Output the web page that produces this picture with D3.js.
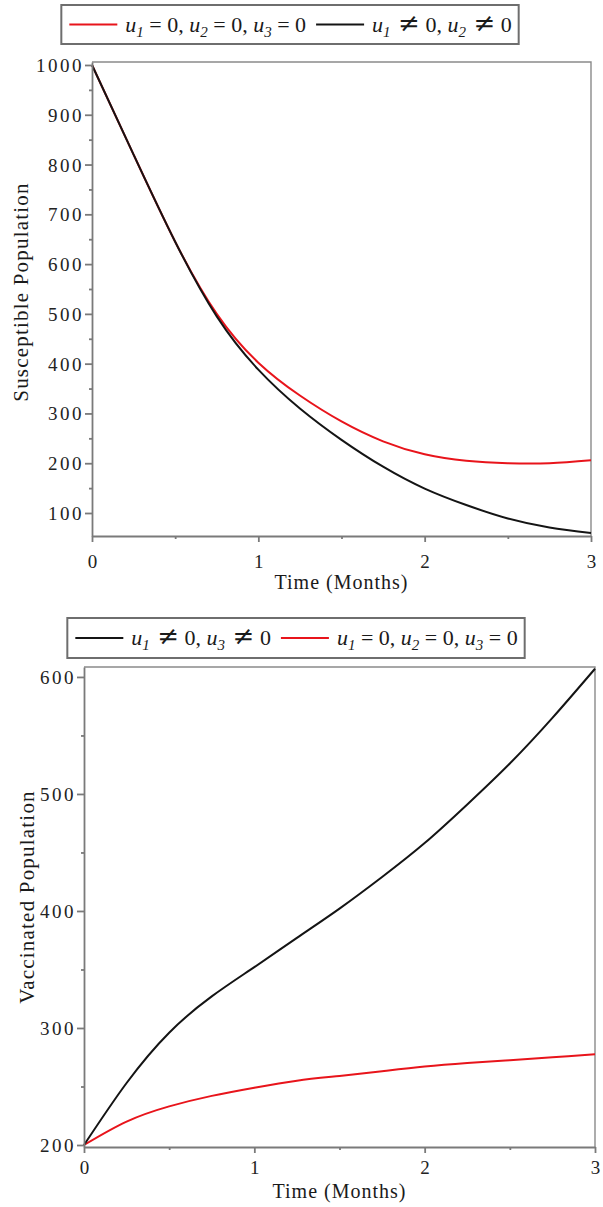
<!DOCTYPE html>
<html>
<head>
<meta charset="utf-8">
<script src="https://cdn.jsdelivr.net/npm/d3@7"></script>
<style>
  html, body { margin: 0; padding: 0; background: #fff; }
  svg { display: block; font-family: "Liberation Serif", "Times New Roman", serif; }
  text { white-space: pre; }
</style>
</head>
<body>
<svg id="chart" width="603" height="1207"></svg>
<script>
// --- データ ---
const months = [0, 0.25, 0.5, 0.75, 1, 1.25, 1.5, 1.75, 2, 2.25, 2.5, 2.75, 3];

const susceptibleNoControl = [1000, 820, 645, 500, 402, 336, 284, 244, 218, 205, 200, 200, 206];
const susceptibleControl = [1000, 820, 645, 495, 388, 310, 247, 193, 149, 116, 89, 71, 60];

const vaccinatedControl = [200, 253, 296, 327, 352, 377, 402, 429, 458, 491, 526, 565, 607];
const vaccinatedNoControl = [200, 220, 233, 242, 249, 255, 259, 263, 267, 270, 272.5, 275, 277.5];

const timeTicks = [0, 1, 2, 3];
const timeMinorTicks = [0.5, 1.5, 2.5];
const susceptibleTicks = [100, 200, 300, 400, 500, 600, 700, 800, 900, 1000];
const susceptibleMinorTicks = [150, 250, 350, 450, 550, 650, 750, 850, 950];
const vaccinatedTicks = [200, 300, 400, 500, 600];
const vaccinatedMinorTicks = [250, 350, 450, 550];

// 凡例ラベル: [文字列, 種類]
const labelNoControl = [["u", "it"], ["1", "sub"], [" = 0, ", ""], ["u", "it"], ["2", "sub"], [" = 0, ", ""], ["u", "it"], ["3", "sub"], [" = 0", ""]];
const labelSusControl = [["u", "it"], ["1", "sub"], [" ", ""], ["\u2260", "rel"], [" 0, ", ""], ["u", "it"], ["2", "sub"], [" ", ""], ["\u2260", "rel"], [" 0", ""]];
const labelVacControl = [["u", "it"], ["1", "sub"], [" ", ""], ["\u2260", "rel"], [" 0, ", ""], ["u", "it"], ["3", "sub"], [" ", ""], ["\u2260", "rel"], [" 0", ""]];

// --- スタイル ---
const RED = "#e8141b";
const BLACK = "#141414";
const AXIS_COLOR = "#7a7a7a";

const PANELS = [
    {
        frame: { left: 92, right: 591, top: 62, bottom: 536 },
        yDomain: [53.8, 1006],
        yTicks: susceptibleTicks,
        yMinor: susceptibleMinorTicks,
        yLabel: "Susceptible Population",
        yLabelX: 28,
        yLabelY: 292,
        xTickBaseline: 568,
        xLabelBaseline: 589,
        series: [
            { values: susceptibleNoControl, color: RED },
            { values: susceptibleControl, color: BLACK },
        ],
        legend: {
            centerX: 290, top: 5, height: 39,
            items: [
                { color: RED, label: labelNoControl },
                { color: BLACK, label: labelSusControl },
            ],
        },
    },
    {
        frame: { left: 84, right: 595, top: 667, bottom: 1147 },
        yDomain: [198.3, 608.5],
        yTicks: vaccinatedTicks,
        yMinor: vaccinatedMinorTicks,
        yLabel: "Vaccinated Population",
        yLabelX: 34,
        yLabelY: 897,
        xTickBaseline: 1174,
        xLabelBaseline: 1198,
        series: [
            { values: vaccinatedNoControl, color: RED },
            { values: vaccinatedControl, color: BLACK },
        ],
        legend: {
            centerX: 296, top: 618, height: 40,
            items: [
                { color: BLACK, label: labelVacControl },
                { color: RED, label: labelNoControl },
            ],
        },
    },
];

const svg = d3.select("#chart");

/**
 * 数式風ラベル（斜体 u、下付き数字、≠）を text 要素に書き込む
 */
function writeMathLabel(textSel, segments) {
    let shifted = false;
    segments.forEach(([str, kind]) => {
        const t = textSel.append("tspan").text(str);
        if (kind === "sub") {
            t.attr("font-style", "italic").attr("font-size", 15).attr("dy", 5);
            shifted = true;
            return;
        }
        if (kind === "it") t.attr("font-style", "italic");
        if (kind === "rel") t.attr("font-size", 26).attr("font-family", "DejaVu Serif").attr("dx", 2);
        if (shifted) {
            t.attr("dy", -5);
            shifted = false;
        }
    });
}

/**
 * 凡例（枠・線サンプル・ラベル）
 */
function drawLegend(cfg) {
    const g = svg.append("g");
    const midY = cfg.top + cfg.height / 2;
    const box = g.append("rect")
        .attr("x", 0)
        .attr("y", cfg.top)
        .attr("height", cfg.height)
        .attr("fill", "#fff")
        .attr("stroke", "#6e6e6e")
        .attr("stroke-width", 2);

    let x = 8;
    cfg.items.forEach((item, i) => {
        g.append("line")
            .attr("x1", x).attr("x2", x + 48)
            .attr("y1", midY).attr("y2", midY)
            .attr("stroke", item.color)
            .attr("stroke-width", 2.2);
        x += 56;
        const text = g.append("text")
            .attr("x", x)
            .attr("y", midY + 7)
            .attr("font-size", 22)
            .attr("fill", "#1a1a1a");
        writeMathLabel(text, item.label);
        const bb = text.node().getBBox();
        x = bb.x + bb.width + (i === 0 ? 10 : 7);
    });

    box.attr("width", x);
    g.attr("transform", `translate(${cfg.centerX - x / 2},0)`);
}

/**
 * 1 つのパネル（軸・曲線・ラベル）
 */
function drawPanel(p) {
    const f = p.frame;
    const x = d3.scaleLinear().domain([0, 3]).range([f.left, f.right]);
    const y = d3.scaleLinear().domain(p.yDomain).range([f.bottom, f.top]);

    // 外枠（上・右）
    svg.append("path")
        .attr("d", `M${f.left},${f.top}H${f.right}V${f.bottom}`)
        .attr("fill", "none")
        .attr("stroke", "#8a8a8a")
        .attr("stroke-width", 1.4);

    // 曲線
    const line = d3.line()
        .x((d) => x(d[0]))
        .y((d) => y(d[1]))
        .curve(d3.curveNatural);

    p.series.forEach((s) => {
        svg.append("path")
            .datum(months.map((t, i) => [t, s.values[i]]))
            .attr("d", line)
            .attr("fill", "none")
            .attr("stroke", s.color)
            .attr("stroke-width", 2);
    });

    // Y 軸
    const yAxis = svg.append("g")
        .attr("transform", `translate(${f.left},0)`)
        .call(d3.axisLeft(y).tickValues(p.yTicks).tickSize(7).tickSizeOuter(0).tickPadding(1).tickFormat(d3.format("d")));
    svg.append("g")
        .attr("transform", `translate(${f.left},0)`)
        .call(d3.axisLeft(y).tickValues(p.yMinor).tickSize(3).tickSizeOuter(0).tickFormat(""))
        .select(".domain").remove();

    // X 軸
    const xAxis = svg.append("g")
        .attr("transform", `translate(0,${f.bottom})`)
        .call(d3.axisBottom(x).tickValues(timeTicks).tickSize(6).tickSizeOuter(0).tickFormat(d3.format("d")));
    svg.append("g")
        .attr("transform", `translate(0,${f.bottom})`)
        .call(d3.axisBottom(x).tickValues(timeMinorTicks).tickSize(3).tickSizeOuter(0).tickFormat(""))
        .select(".domain").remove();

    svg.selectAll(".domain, .tick line")
        .attr("stroke", AXIS_COLOR)
        .attr("stroke-width", 1.8);

    [yAxis, xAxis].forEach((a) => {
        a.selectAll("text")
            .attr("font-family", "Liberation Serif")
            .attr("font-size", 19)
            .attr("letter-spacing", 2.5)
            .attr("fill", "#222");
    });
    yAxis.selectAll("text").attr("dy", "0.34em");
    xAxis.selectAll("text")
        .attr("y", null)
        .attr("dy", null)
        .attr("dx", 1.2)
        .attr("transform", `translate(0,${p.xTickBaseline - f.bottom})`);

    // 軸ラベル
    svg.append("text")
        .attr("x", (f.left + f.right) / 2)
        .attr("y", p.xLabelBaseline)
        .attr("text-anchor", "middle")
        .attr("font-size", 20)
        .attr("letter-spacing", 1)
        .attr("fill", "#1a1a1a")
        .text("Time (Months)");

    svg.append("text")
        .attr("transform", `translate(${p.yLabelX},${p.yLabelY}) rotate(-90)`)
        .attr("text-anchor", "middle")
        .attr("font-size", 21)
        .attr("letter-spacing", 1.2)
        .attr("fill", "#1a1a1a")
        .text(p.yLabel);

    drawLegend(p.legend);
}

PANELS.forEach(drawPanel);
</script>
</body>
</html>
